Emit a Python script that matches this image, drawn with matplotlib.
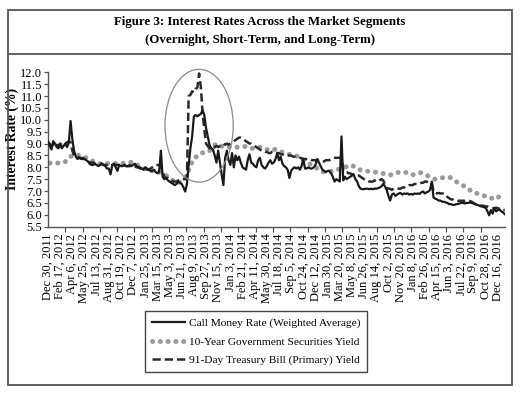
import numpy as np
import pandas as pd
import matplotlib
matplotlib.use('Agg')
import matplotlib.pyplot as plt
import matplotlib.dates as mdates
from matplotlib.patches import Ellipse, Rectangle
from matplotlib.lines import Line2D

plt.rcParams['font.family'] = ['Liberation Serif', 'DejaVu Serif']

# ---------------- data ----------------
weekly_start = '2011-12-30'
monthly_start = '2012-01-07'

call_money = [
    9.1, 8.9, 8.75, 9.1, 9.0, 8.85, 8.8, 8.95, 8.8, 8.9,
    9.0, 8.85, 9.05, 9.95, 9.2, 8.7, 8.45, 8.35, 8.4, 8.35,
    8.4, 8.35, 8.3, 8.25, 8.15, 8.1, 8.1, 8.15, 8.1, 8.05,
    8.1, 8.15, 8.1, 8.05, 7.95, 7.95, 7.7, 8.1, 8.15, 8.0,
    7.85, 8.1, 8.05, 8.05, 8.1, 8.05, 8.05, 8.1, 8.05, 8.1,
    8.15, 8.05, 8.0, 8.0, 7.95, 7.9, 8.0, 7.95, 7.9, 7.85,
    7.85, 7.9, 7.8, 7.75, 7.8, 8.7, 7.6, 7.5, 7.55, 7.45,
    7.4, 7.35, 7.3, 7.25, 7.3, 7.4, 7.35, 7.3, 7.15, 6.98,
    7.3, 8.1, 8.8, 9.3, 10.15, 10.2, 10.15, 10.2, 10.25, 10.4,
    10.2, 9.65, 9.3, 8.95, 8.8, 8.75, 8.5, 8.2, 8.7, 8.2,
    7.7, 7.25, 8.4, 8.7, 8.3, 8.1, 8.6, 8.0, 8.5, 8.3,
    8.45, 8.2, 8.0, 7.95, 7.9, 8.3, 8.55, 8.2, 8.15, 8.05,
    8.0, 8.3, 8.4, 8.1, 8.0, 7.95, 8.05, 8.2, 8.3, 8.15,
    8.2, 8.35, 8.6, 8.3, 8.45, 8.15, 8.05, 8.0, 7.9, 7.55,
    7.85, 7.95, 8.0, 7.95, 8.0, 7.9, 8.05, 8.35, 7.95, 7.95,
    8.0, 7.95, 7.95, 8.0, 8.1, 8.35, 8.2, 8.05, 7.9, 7.85,
    7.8, 7.85, 7.85, 7.75, 7.6, 7.4, 7.5, 7.45, 7.4, 9.3,
    7.45, 7.6, 7.5, 7.55, 7.6, 7.65, 7.7, 7.5, 7.4, 7.2,
    7.1, 7.08, 7.08, 7.1, 7.1, 7.08, 7.1, 7.08, 7.1, 7.1,
    7.12, 7.15, 7.2, 7.3, 7.2, 7.05, 6.8, 6.6, 6.85, 6.9,
    6.8, 6.85, 6.9, 6.92, 6.85, 6.9, 6.88, 6.9, 6.85, 6.88,
    6.85, 6.9, 6.88, 6.9, 6.88, 6.95, 6.98, 6.9, 6.95, 6.98,
    7.05, 7.4, 6.72, 6.68, 6.65, 6.6, 6.6, 6.55, 6.55, 6.52,
    6.5, 6.45, 6.45, 6.42, 6.42, 6.45, 6.45, 6.48, 6.5, 6.5,
    6.48, 6.5, 6.5, 6.52, 6.5, 6.48, 6.45, 6.42, 6.4, 6.36,
    6.35, 6.32, 6.3, 6.15, 5.98, 6.2, 6.05, 6.3, 6.15, 6.2,
    6.22, 6.15, 6.1, 6.03,
]

tbill_91 = [
    8.95, 9.0, 8.9, 8.95, 9.05, 8.95, 8.9, 9.0, 8.95, 9.05,
    9.0, 9.05, 9.1, 9.05, 8.7, 8.5, 8.45, 8.45, 8.4, 8.4,
    8.35, 8.35, 8.3, 8.25, 8.2, 8.2, 8.2, 8.15, 8.15, 8.15,
    8.15, 8.15, 8.1, 8.1, 8.1, 8.1, 8.05, 8.1, 8.1, 8.1,
    8.1, 8.1, 8.05, 8.05, 8.1, 8.05, 8.05, 8.05, 8.05, 8.05,
    8.05, 8.0, 8.0, 7.95, 7.95, 7.95, 7.95, 7.9, 7.9, 7.95,
    8.0, 8.05, 8.1, 8.1, 8.1, 8.05, 7.8, 7.6, 7.55, 7.55,
    7.5, 7.45, 7.4, 7.4, 7.4, 7.45, 7.45, 7.5, 7.5, 7.5,
    7.6, 11.0, 11.05, 11.2, 11.15, 11.3, 11.35, 11.95, 11.4, 10.3,
    9.6, 9.0, 8.9, 8.8, 8.75, 8.8, 8.85, 8.9, 8.85, 8.9,
    8.95, 9.0, 8.95, 9.0, 8.95, 9.0, 9.05, 9.1, 9.15, 9.2,
    9.25, 9.25, 9.2, 9.15, 9.1, 9.05, 9.0, 9.0, 8.95, 8.9,
    8.85, 8.8, 8.75, 8.7, 8.7, 8.65, 8.65, 8.6, 8.6, 8.65,
    8.65, 8.6, 8.6, 8.6, 8.55, 8.55, 8.5, 8.5, 8.5, 8.5,
    8.5, 8.45, 8.45, 8.4, 8.4, 8.4, 8.38, 8.35, 8.35, 8.35,
    8.35, 8.35, 8.3, 8.3, 8.3, 8.3, 8.3, 8.3, 8.25, 8.25,
    8.3, 8.3, 8.3, 8.35, 8.4, 8.4, 8.4, 8.4, 8.4, 8.4,
    7.85, 7.8, 7.8, 7.75, 7.75, 7.7, 7.7, 7.7, 7.7, 7.65,
    7.6, 7.55, 7.5, 7.45, 7.45, 7.4, 7.4, 7.4, 7.45, 7.4,
    7.4, 7.45, 7.5, 7.45, 7.3, 7.15, 7.1, 7.1, 7.05, 7.1,
    7.1, 7.1, 7.1, 7.1, 7.15, 7.15, 7.2, 7.2, 7.25, 7.25,
    7.25, 7.3, 7.3, 7.3, 7.3, 7.35, 7.35, 7.4, 7.4, 7.35,
    7.35, 7.35, 6.95, 6.95, 6.9, 6.92, 6.9, 6.9, 6.9, 6.85,
    6.75, 6.7, 6.65, 6.65, 6.6, 6.6, 6.58, 6.6, 6.58, 6.6,
    6.58, 6.6, 6.6, 6.58, 6.55, 6.5, 6.45, 6.42, 6.4, 6.4,
    6.38, 6.38, 6.35, 6.35, 6.32, 6.3, 6.28, 6.25, 6.3, 6.28,
    6.25, 6.2, 6.2, 6.2,
]

gsec_10y = [
    8.18, 8.18, 8.22, 8.52, 8.5, 8.38, 8.2, 8.12, 8.18, 8.15,
    8.18, 8.22, 8.0, 7.88, 7.83, 7.76, 7.5, 7.33, 7.6, 8.35,
    8.6, 8.65, 9.0, 8.85, 8.85, 8.85, 8.88, 8.78, 8.86, 8.72,
    8.76, 8.6, 8.52, 8.45, 8.2, 8.05, 7.81, 7.81, 7.88, 8.0,
    8.09, 7.9, 7.84, 7.8, 7.75, 7.67, 7.78, 7.8, 7.68, 7.78,
    7.65, 7.5, 7.56, 7.57, 7.36, 7.18, 6.95, 6.86, 6.74, 6.65,
    6.9,
]

tick_labels = [
    "Dec 30, 2011", "Feb 17, 2012", "Apr 6, 2012", "May 25, 2012", "Jul 13, 2012",
    "Aug 31, 2012", "Oct 19, 2012", "Dec 7, 2012", "Jan 25, 2013", "Mar 15, 2013",
    "May 3, 2013", "Jun 21, 2013", "Aug 9, 2013", "Sep 27, 2013", "Nov 15, 2013",
    "Jan 3, 2014", "Feb 21, 2014", "Apr 11, 2014", "May 30, 2014", "Jul 18, 2014",
    "Sep 5, 2014", "Oct 24, 2014", "Dec 12, 2014", "Jan 30, 2015", "Mar 20, 2015",
    "May 8, 2015", "Jun 26, 2015", "Aug 14, 2015", "Oct 2, 2015", "Nov 20, 2015",
    "Jan 8, 2016", "Feb 26, 2016", "Apr 15, 2016", "Jun 3, 2016", "Jul 22, 2016",
    "Sep 9, 2016", "Oct 28, 2016", "Dec 16, 2016",
]

series_names = [
    "Call Money Rate (Weighted Average)",
    "10-Year Government Securities Yield",
    "91-Day Treasury Bill (Primary) Yield",
]

# ---------------- figure ----------------
W, H = 520, 393
fig = plt.figure(figsize=(W / 100, H / 100), dpi=100)

# outer frame and title separator
fig.add_artist(Rectangle((8 / W, 1 - 385 / H), 504 / W, 375 / H, transform=fig.transFigure,
                         fill=False, edgecolor='#555555', linewidth=1.3))
fig.add_artist(Line2D([8 / W, 512 / W], [1 - 54 / H, 1 - 54 / H], transform=fig.transFigure,
                      color='#555555', linewidth=1.3))
fig.text(0.5, 1 - 22.5 / H, "Figure 3: Interest Rates Across the Market Segments",
         ha='center', va='center', fontsize=9.3, fontweight='bold')
fig.text(0.5, 1 - 39.5 / H, "(Overnight, Short-Term, and Long-Term)",
         ha='center', va='center', fontsize=9.3, fontweight='bold')

ax = fig.add_axes([47.5 / W, 1 - 226.7 / H, 457.5 / W, 154.4 / H])

weeks = pd.date_range(weekly_start, periods=len(call_money), freq='7D')
months = pd.date_range(monthly_start, periods=len(gsec_10y), freq=pd.DateOffset(months=1))
label_dates = pd.to_datetime(tick_labels, format='%b %d, %Y')

l2, = ax.plot(months, gsec_10y, color='#9a9a9a', linewidth=3.6,
              linestyle=(0, (0.01, 1.55)), dash_capstyle='round', zorder=2)
l3, = ax.plot(weeks, tbill_91, color='#2a2a2a', linewidth=1.8,
              linestyle=(0, (3.3, 1.6)), zorder=3)
l1, = ax.plot(weeks, call_money, color='#1a1a1a', linewidth=1.6, zorder=4)

ax.set_ylim(5.5, 12.0)
ax.set_yticks(np.arange(5.5, 12.01, 0.5))
ax.set_yticklabels([f"{v:.1f}" for v in np.arange(5.5, 12.01, 0.5)])
ax.set_ylabel("Interest Rate (%)", fontsize=9.8, fontweight='bold')
ax.yaxis.set_label_coords((19 - 47.5) / 457.5, 0.57)

x0 = mdates.date2num(label_dates[0])
x1 = mdates.date2num(label_dates[-1])
ax.set_xlim(x0 - 2, mdates.date2num(weeks[-1]) + 1)
ax.set_xticks(mdates.date2num(label_dates))
ax.set_xticklabels(tick_labels, rotation=90, ha='center', va='top')
ax.set_xticks(np.linspace(x0, x1, 27), minor=True)
ax.tick_params(axis='x', which='major', length=0, pad=5, labelsize=9)
ax.tick_params(axis='x', which='minor', length=3.5, direction='out', color='#555555', width=0.9)
ax.tick_params(axis='y', length=3, direction='out', color='#555555', width=0.9, labelsize=9, pad=1)

for s in ['top', 'right']:
    ax.spines[s].set_visible(False)
for s in ['left', 'bottom']:
    ax.spines[s].set_color('#555555')
    ax.spines[s].set_linewidth(1.0)

# highlight ellipse around the 2013 spike
ell = Ellipse((mdates.date2num(pd.Timestamp('2013-08-30')), 9.75), width=275, height=4.75,
              fill=False, edgecolor='#8a8a8a', linewidth=0.9, clip_on=False, zorder=5)
ax.add_patch(ell)

leg = fig.legend([l1, l2, l3], series_names, loc='upper left',
                 bbox_to_anchor=(145 / W, 1 - 311 / H), frameon=True, fancybox=False,
                 edgecolor='#444444', framealpha=1, fontsize=8.2, handlelength=2.9,
                 borderpad=0.6, labelspacing=0.75, handletextpad=0.35, borderaxespad=0)
leg.get_frame().set_linewidth(1.0)

fig.savefig('out.png', dpi=100)
